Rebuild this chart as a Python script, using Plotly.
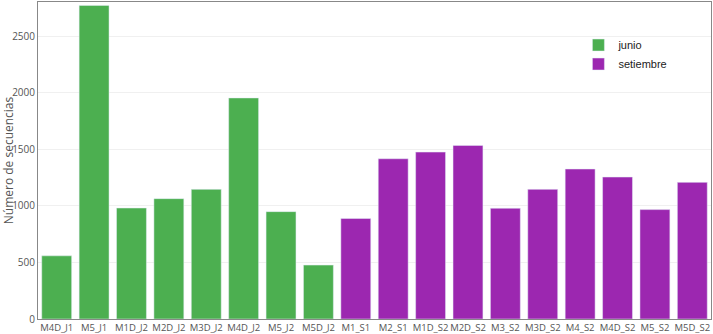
import plotly.graph_objects as go

cats_junio = ["M4D_J1", "M5_J1", "M1D_J2", "M2D_J2", "M3D_J2", "M4D_J2", "M5_J2", "M5D_J2"]
vals_junio = [559, 2775, 982, 1065, 1147, 1956, 950, 477]
cats_set = ["M1_S1", "M2_S1", "M1D_S2", "M2D_S2", "M3_S2", "M3D_S2", "M4_S2", "M4D_S2", "M5_S2", "M5D_S2"]
vals_set = [889, 1418, 1477, 1536, 980, 1147, 1327, 1256, 968, 1209]
y_ticks = [0, 500, 1000, 1500, 2000, 2500]

fig = go.Figure()
fig.add_trace(go.Bar(x=cats_junio, y=vals_junio, name="junio", marker_color="#4CAF50"))
fig.add_trace(go.Bar(x=cats_set, y=vals_set, name="setiembre", marker_color="#9C27B0"))

fig.update_layout(
    width=713, height=334,
    margin=dict(l=38, r=2, t=2, b=15),
    plot_bgcolor="white", paper_bgcolor="white",
    bargap=0.2,
    font=dict(family="Open Sans", color="#444"),
    legend=dict(x=0.803, y=0.91, xanchor="left", yanchor="top", itemwidth=30,
                font=dict(family="Liberation Sans", size=11, color="#222"),
                bgcolor="rgba(0,0,0,0)", tracegroupgap=0),
)
fig.update_xaxes(showline=True, linecolor="#888", linewidth=1, mirror=True,
                 tickfont=dict(size=9.5, color="#555"), ticks="", showgrid=False,
                 tickangle=0, automargin=False)
fig.update_yaxes(range=[0, 2805], tickvals=y_ticks, showline=True, linecolor="#888",
                 linewidth=1, mirror=True, gridcolor="#f0f0f0", zeroline=False,
                 tickfont=dict(size=10, color="#555"), automargin=False,
                 title=dict(text="Número de secuencias", font=dict(size=12, color="#555"), standoff=4))

fig.write_html("out.html")
